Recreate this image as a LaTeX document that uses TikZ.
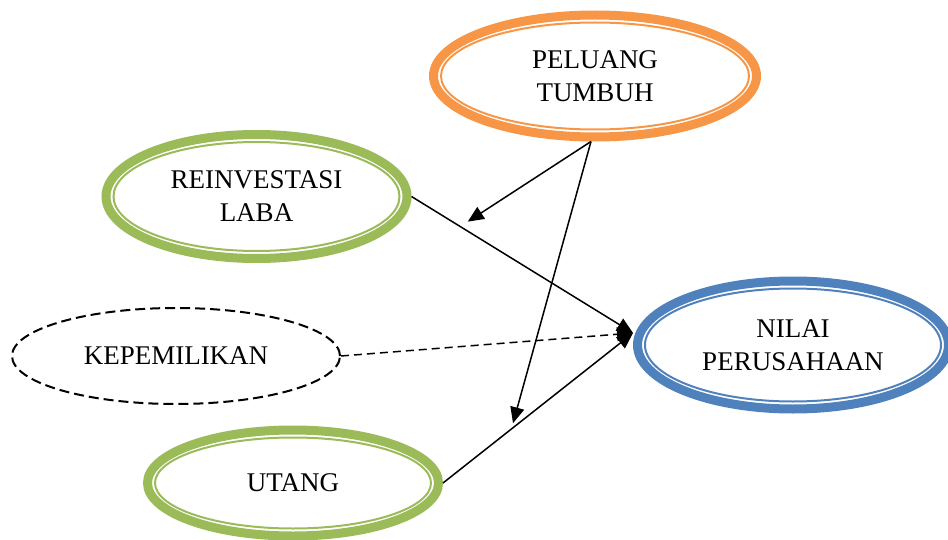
\documentclass[tikz,border=0pt]{standalone}
\usepackage{fontspec}
\setmainfont{Liberation Serif}
\usetikzlibrary{shapes.geometric, arrows.meta}
\definecolor{peach}{HTML}{F79646}
\definecolor{leaf}{HTML}{9BBB59}
\definecolor{steel}{HTML}{4F81BD}
\tikzset{
  var/.style={ellipse, draw, line width=4.5pt, align=center, inner sep=0pt,
    font=\fontsize{13.5}{16.5}\selectfont},
  ring/.style={line width=1pt},
  link/.style={-{Triangle[length=8pt,width=7pt]}, line width=0.75pt},
}

\begin{document}
\begin{tikzpicture}[x=0.5pt, y=-0.5pt]
        \useasboundingbox (0,0) rectangle (948,540);
        % variables
        \node[var, draw=peach, minimum width=161.5pt, minimum height=61pt] (pel) at (595,76) {PELUANG\\TUMBUH};
        \node[var, draw=leaf, minimum width=150.5pt, minimum height=62pt] (rein) at (256.5,196.5) {REINVESTASI\\LABA};
        \node[var, draw, line width=1pt, dash pattern=on 5pt off 2.5pt, minimum width=164pt, minimum height=48pt] (kep) at (176,356) {KEPEMILIKAN};
        \node[var, draw=leaf, minimum width=145.5pt, minimum height=53pt] (utang) at (293,483) {UTANG};
        \node[var, draw=steel, minimum width=155.5pt, minimum height=64pt] (nilai) at (793,345) {NILAI\\PERUSAHAAN};
        \draw[ring, peach] (pel.center) ellipse [x radius=154, y radius=53.5];
        \draw[ring, leaf] (rein.center) ellipse [x radius=143, y radius=54.5];
        \draw[ring, leaf] (utang.center) ellipse [x radius=138, y radius=45.5];
        \draw[ring, steel] (nilai.center) ellipse [x radius=148, y radius=56.5];
        % paths
        \coordinate (nin) at ([yshift=6pt]nilai.west);
        \draw[link] (rein.east) -- coordinate[pos=0.22] (onrein) (nin);
        \draw[link, dash pattern=on 4pt off 2.5pt] (kep.east) -- (nin);
        \draw[link] (utang.east) -- coordinate[pos=0.36] (onutang) (nin);
        \draw[link, shorten >=4.5pt] ([xshift=-2pt]pel.south) -- (onrein);
        \draw[link, shorten >=3pt] ([xshift=-2pt]pel.south) -- (onutang);
    \end{tikzpicture}
\end{document}
